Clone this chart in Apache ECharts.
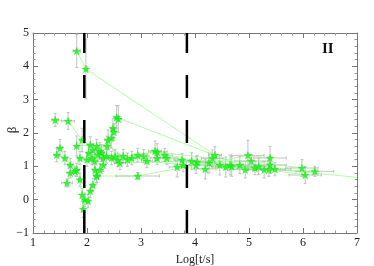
<!DOCTYPE html>
<html><head><meta charset="utf-8">
<script src="https://cdn.jsdelivr.net/npm/echarts@6/dist/echarts.min.js"></script>
<style>html,body{margin:0;padding:0;background:#fff}#c{width:374px;height:266px}</style>
</head><body><div id="c"></div>
<script>
// each point: [log t, beta, xErr, yErr]
var grb1 = [[1.81,4.46,0.07,0.5],[1.98,3.92,0.03,0.9],[4.37,1.34,0.12,0.25]];
var grb2 = [[1.41,2.39,0.06,0.2],[1.65,2.36,0.12,0.25],[1.91,1.79,0.04,0.35],[2.61,1.10,0.10,0.2],[3.94,1.16,0.3,0.25]];
var grb2Tail = [[3.94,1.16],[7.0,0.67]];
var grb3 = [[2.45,1.85,0.04,0.3],[2.48,2.14,0.04,0.3],[2.50,2.03,0.04,0.25],[2.55,2.47,0.05,0.35],[2.58,2.42,0.06,0.4],[4.83,1.04,0.3,0.25]];
var grb4 = [[1.63,0.50,0.10,0.12],[1.69,0.80,0.06,0.15],[1.78,0.86,0.05,0.15],[1.87,0.60,0.03,0.2],[1.91,0.14,0.02,0.2],[1.93,-0.28,0.02,0.25],[1.96,0.00,0.02,0.2],[2.02,-0.04,0.02,0.2],[2.06,0.26,0.03,0.2],[2.11,0.44,0.03,0.2],[2.18,0.71,0.03,0.2],[2.24,0.89,0.04,0.2],[2.30,1.04,0.05,0.2]];
var grb5 = [[1.44,1.34,0.05,0.2],[1.50,1.55,0.05,0.25],[1.59,1.25,0.05,0.2],[1.69,1.04,0.05,0.2],[1.81,0.89,0.05,0.2],[1.87,1.25,0.05,0.2],[2.09,1.25,0.06,0.2],[2.30,1.25,0.08,0.2],[2.83,1.25,0.1,0.2],[3.48,1.25,0.15,0.2],[4.04,1.13,0.2,0.2],[5.04,1.16,0.3,0.2],[5.98,0.95,0.3,0.25]];
var grb6 = [[1.81,1.61,0.04,0.3],[2.06,1.64,0.05,0.25],[2.18,1.61,0.05,0.2],[2.37,1.61,0.06,0.3],[2.67,1.31,0.08,0.2],[3.11,1.16,0.1,0.2],[3.78,1.04,0.15,0.2],[4.46,1.04,0.2,0.3],[5.11,0.95,0.3,0.2],[6.04,0.74,0.3,0.25]];
var grb7 = [[2.11,1.49,0.05,0.2],[2.24,1.46,0.06,0.25],[2.39,1.79,0.06,0.3],[2.57,1.19,0.08,0.2],[2.94,1.34,0.1,0.2],[3.26,1.46,0.12,0.3],[3.76,1.19,0.15,0.2],[4.26,1.10,0.2,0.3],[4.98,1.33,0.3,0.45],[5.39,1.25,0.3,0.35]];
var grb8 = [[2.15,0.89,0.05,0.2],[2.18,0.71,0.05,0.2],[2.94,0.71,0.4,0.1],[4.02,1.04,0.25,0.25],[4.68,1.00,0.3,0.3],[5.28,0.90,0.3,0.25],[6.22,0.85,0.35,0.15]];
var grb9 = [[3.30,1.25,0.12,0.2],[3.44,1.34,0.15,0.2],[3.67,0.98,0.15,0.3],[4.19,0.92,0.2,0.3],[4.57,0.98,0.25,0.3],[4.93,0.90,0.3,0.25],[5.37,0.90,0.3,0.2],[5.48,0.92,0.3,0.2]];
var grb10 = [[2.00,1.20,0.04,0.2],[2.20,1.35,0.05,0.2],[2.45,1.25,0.06,0.2],[3.30,1.43,0.12,0.25],[4.32,1.24,0.2,0.25],[4.65,1.04,0.25,0.3],[5.18,1.00,0.3,0.25],[5.39,1.04,0.3,0.25]];
var grb11 = [[2.03,1.40,0.04,0.25],[2.14,1.15,0.05,0.2],[2.27,1.40,0.05,0.25],[2.36,1.30,0.06,0.2],[2.52,1.30,0.07,0.2],[2.75,1.20,0.08,0.2],[3.05,1.30,0.1,0.2]];
var groups = [grb1,grb2,grb3,grb4,grb5,grb6,grb7,grb8,grb9,grb10,grb11];
var vLines = [1.95, 3.85];
var xTicks = [1,2,3,4,5,6,7];
var yTicks = [-1,0,1,2,3,4,5];

var STAR = 'path://M0,-10 L2.35,-3.24 L9.51,-3.09 L3.8,1.24 L5.88,8.09 L0,4 L-5.88,8.09 L-3.8,1.24 L-9.51,-3.09 L-2.35,-3.24 Z';
var FONT = '"Liberation Serif", "DejaVu Serif", serif';
var all = [];
groups.forEach(function(g){ g.forEach(function(p){ all.push(p); }); });

function errItem(params, api){
  var x = api.value(0), y = api.value(1), ex = api.value(2), ey = api.value(3);
  var c = api.coord([x,y]);
  var l = api.coord([x-ex,y]), r = api.coord([x+ex,y]);
  var t = api.coord([x,y+ey]), b = api.coord([x,y-ey]);
  var st = {stroke:'#b4b4b4', lineWidth:0.8};
  var k = 1.5;
  return {type:'group', children:[
    {type:'line', shape:{x1:c[0],y1:t[1],x2:c[0],y2:b[1]}, style:st},
    {type:'line', shape:{x1:c[0]-k,y1:t[1],x2:c[0]+k,y2:t[1]}, style:st},
    {type:'line', shape:{x1:c[0]-k,y1:b[1],x2:c[0]+k,y2:b[1]}, style:st},
    {type:'line', shape:{x1:l[0],y1:c[1],x2:r[0],y2:c[1]}, style:st},
    {type:'line', shape:{x1:l[0],y1:c[1]-k,x2:l[0],y2:c[1]+k}, style:st},
    {type:'line', shape:{x1:r[0],y1:c[1]-k,x2:r[0],y2:c[1]+k}, style:st}
  ]};
}

var series = [];
series.push({type:'custom', renderItem:errItem, data:all, z:1, silent:true, clip:true});
groups.forEach(function(g){
  series.push({type:'line', data:g.map(function(p){return [p[0],p[1]];}), symbol:'none',
    lineStyle:{color:'#7dfa6e', width:0.7, opacity:0.85}, z:2, silent:true});
});
series.push({type:'line', data:grb2Tail, symbol:'none', lineStyle:{color:'#7dfa6e', width:0.7, opacity:0.85}, z:2, silent:true});
series.push({type:'scatter', data:all.map(function(p){return [p[0],p[1]];}), symbol:STAR, symbolSize:8,
  itemStyle:{color:'#11f511', borderColor:'#00e000', borderWidth:0.3}, z:3, silent:true});
vLines.forEach(function(v){
  series.push({type:'line', data:[[v,-1],[v,5]], symbol:'none',
    lineStyle:{color:'#000', width:2.5, type:[23,22]}, z:5, silent:true});
});

var axisCommon = {
  axisLine:{show:true, onZero:false, lineStyle:{color:'#777', width:1}},
  axisTick:{show:true, inside:true, length:5, lineStyle:{color:'#777'}},
  minorTick:{show:true, splitNumber:5, length:2.5, lineStyle:{color:'#999'}},
  splitLine:{show:false}
};
function ax(o){ return Object.assign({}, JSON.parse(JSON.stringify(axisCommon)), o); }

var chart = echarts.init(document.getElementById('c'), null, {renderer:'canvas'});
chart.setOption({
  animation:false,
  grid:{left:33, right:17, top:33, bottom:33, containLabel:false, outerBoundsMode:'none'},
  xAxis:[
    ax({type:'value', min:xTicks[0], max:xTicks[xTicks.length-1], interval:1, position:'bottom',
      name:'Log[t/s]', nameLocation:'middle', nameGap:17,
      nameTextStyle:{fontFamily:FONT, fontSize:12, color:'#222'},
      axisLabel:{fontFamily:FONT, fontSize:12, color:'#222', margin:4}}),
    ax({type:'value', min:xTicks[0], max:xTicks[xTicks.length-1], interval:1, position:'top', axisLabel:{show:false}})
  ],
  yAxis:[
    ax({type:'value', min:yTicks[0], max:yTicks[yTicks.length-1], interval:1, position:'left',
      axisLabel:{fontFamily:FONT, fontSize:12, color:'#222', margin:4,
        formatter:function(v){ return v<0 ? '\u2212'+Math.abs(v) : String(v); }}}),
    ax({type:'value', min:yTicks[0], max:yTicks[yTicks.length-1], interval:1, position:'right', axisLabel:{show:false}})
  ],
  graphic:[
    {type:'text', left:322, top:42, style:{text:'II', fontFamily:FONT, fontSize:15, fontWeight:'bold', fill:'#111'}},
    {type:'text', x:13, y:130, rotation:Math.PI/2, style:{text:'β', fontFamily:FONT, fontSize:13, fill:'#222', align:'center', verticalAlign:'middle'}}
  ],
  series:series
});
</script></body></html>
